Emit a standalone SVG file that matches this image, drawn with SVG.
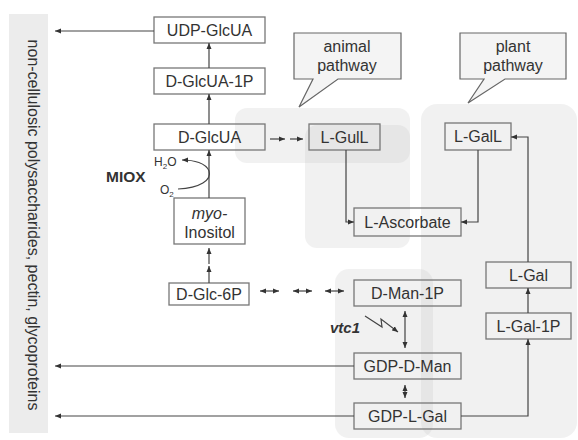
<svg xmlns="http://www.w3.org/2000/svg" width="578" height="440" viewBox="0 0 578 440">
<defs>
<marker id="ah" viewBox="0 0 6 6" refX="6" refY="3" markerWidth="6" markerHeight="6" markerUnits="userSpaceOnUse" orient="auto-start-reverse">
<path d="M0,0.5 L6,3 L0,5.5 z" fill="#333"/>
</marker>
<style>
.box{fill:none;stroke:#777;stroke-width:1.3}
.t{font-family:"Liberation Sans",Arial,sans-serif;font-size:16px;fill:#333;text-anchor:middle}
.ln{fill:none;stroke:#444;stroke-width:1.2}
.arr{fill:none;stroke:#444;stroke-width:1.2;marker-end:url(#ah)}
.dbl{fill:none;stroke:#444;stroke-width:1.2;marker-end:url(#ah);marker-start:url(#ah)}
.reg{fill:#c8c8c8;opacity:0.25}
.call{fill:#f4f4f4;stroke:#666;stroke-width:1.2}
</style>
</defs>
<rect x="0" y="0" width="578" height="440" fill="#fff"/>
<g id="regions">
<rect class="reg" x="235" y="108" width="175" height="55" rx="12"/>
<rect class="reg" x="305" y="125" width="105" height="123" rx="12"/>
<rect class="reg" x="421" y="104" width="156" height="334" rx="16"/>
<rect class="reg" x="335" y="269" width="98" height="169" rx="14"/>
</g>
<g id="sink">
<rect x="9" y="14" width="39" height="419" fill="#ececec"/>
<text class="t" transform="translate(28,225) rotate(90)" x="0" y="0">non-cellulosic polysaccharides, pectin, glycoproteins</text>
</g>
<g id="callout-animal">
<path class="call" d="M294,33 H401 V79 H338 L299,107 L313,79 H294 Z"/>
<text class="t" x="347" y="52">animal</text>
<text class="t" x="347" y="71">pathway</text>
</g>
<g id="callout-plant">
<path class="call" d="M460,33 H566 V79 H505 L468,103 L484,79 H460 Z"/>
<text class="t" x="513" y="52">plant</text>
<text class="t" x="513" y="71">pathway</text>
</g>
<g id="udp-glcua"><rect class="box" x="154" y="17" width="111" height="26"/><text class="t" x="209.5" y="35.5">UDP-GlcUA</text></g>
<g id="d-glcua-1p"><rect class="box" x="154" y="68" width="111" height="26"/><text class="t" x="209.5" y="86.5">D-GlcUA-1P</text></g>
<g id="d-glcua"><rect class="box" x="154" y="124" width="111" height="26"/><text class="t" x="209.5" y="142.5">D-GlcUA</text></g>
<g id="myo-inositol"><rect class="box" x="174" y="198" width="71" height="46"/><text class="t" x="209.5" y="219" font-style="italic">myo-</text><text class="t" x="209.5" y="237.5">Inositol</text></g>
<g id="d-glc-6p"><rect class="box" x="169" y="283" width="80" height="22"/><text class="t" x="209" y="299.5">D-Glc-6P</text></g>
<g id="l-gull"><rect class="box" x="309" y="124" width="71" height="26"/><text class="t" x="344.5" y="142.5">L-GulL</text></g>
<g id="l-ascorbate"><rect class="box" x="354" y="208" width="107" height="28"/><text class="t" x="407.5" y="227.5">L-Ascorbate</text></g>
<g id="l-gall"><rect class="box" x="445" y="123" width="66" height="27"/><text class="t" x="478" y="142">L-GalL</text></g>
<g id="l-gal"><rect class="box" x="486" y="262" width="85" height="26"/><text class="t" x="528.5" y="280.5">L-Gal</text></g>
<g id="l-gal-1p"><rect class="box" x="486" y="313" width="85" height="26"/><text class="t" x="528.5" y="331.5">L-Gal-1P</text></g>
<g id="d-man-1p"><rect class="box" x="354" y="280" width="107" height="26"/><text class="t" x="407.5" y="298.5">D-Man-1P</text></g>
<g id="gdp-d-man"><rect class="box" x="354" y="353" width="107" height="26"/><text class="t" x="407.5" y="371.5">GDP-D-Man</text></g>
<g id="gdp-l-gal"><rect class="box" x="354" y="403" width="107" height="26"/><text class="t" x="407.5" y="421.5">GDP-L-Gal</text></g>
<g id="labels">
<text x="106" y="182" font-family="'Liberation Sans',Arial,sans-serif" font-size="15.5" font-weight="bold" fill="#333">MIOX</text>
<text x="154" y="166" font-family="'Liberation Sans',Arial,sans-serif" font-size="12" fill="#333">H<tspan font-size="8" dy="3">2</tspan><tspan dy="-3">O</tspan></text>
<text x="160" y="194" font-family="'Liberation Sans',Arial,sans-serif" font-size="12" fill="#333">O<tspan font-size="8" dy="3">2</tspan></text>
<text x="330" y="333" font-family="'Liberation Sans',Arial,sans-serif" font-size="15" font-weight="bold" font-style="italic" fill="#333">vtc1</text>
</g>
<g id="connectors">
<path class="arr" d="M154,31 H55"/>
<path class="arr" d="M354,366 H55"/>
<path class="arr" d="M354,416 H55"/>
<path class="arr" d="M209,68 V43"/>
<path class="arr" d="M209,124 V94"/>
<path class="arr" d="M209,198 V150"/>
<path class="arr" d="M209,283 V266"/>
<path class="arr" d="M209,264 V248"/>
<path class="arr" d="M178,189 C200,188 212,180 209,171 C206,163 194,160 182,160"/>
<path class="arr" d="M270,139 H285"/>
<path class="arr" d="M290,139 H303"/>
<path class="arr" d="M346,150 V222 H354"/>
<path class="arr" d="M478,150 V222 H461"/>
<path class="arr" d="M528,262 V137 H511"/>
<path class="arr" d="M528,313 V288"/>
<path class="arr" d="M461,416 H528 V339"/>
<path class="dbl" d="M260,291 H279"/>
<path class="dbl" d="M293,291 H312"/>
<path class="dbl" d="M325,291 H344"/>
<path class="dbl" d="M405,311 V348"/>
<path class="dbl" d="M405,385 V398"/>
<path class="arr" d="M365,316 L382,327 L381,319 L398,332"/>
</g>
</svg>
